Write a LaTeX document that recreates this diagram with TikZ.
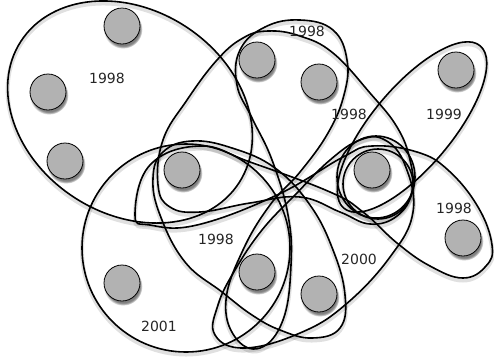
\documentclass[tikz,border=0pt]{standalone}
\usepackage{fontspec}
\setsansfont{DejaVu Sans}
\usetikzlibrary{shadows,fadings}
\begin{document}
\begin{tikzpicture}[x=1pt,y=-1pt,
  hedge/.style={draw=black, line width=1.6pt,
    preaction={draw=black, opacity=0.12, line width=4pt, transform canvas={yshift=-2.5pt}}},
  vert/.style={circle, draw=black, line width=0.8pt, fill=gray!60, minimum size=36pt, inner sep=0pt,
    circular drop shadow={shadow xshift=1pt, shadow yshift=-3pt, shadow scale=1.08}},
  lbl/.style={font=\sffamily\fontsize{14}{14}\selectfont, text=black!85, inner sep=0pt}]
\useasboundingbox (0,0) rectangle (494,360);
% hyperedges
\draw[hedge, rotate around={-33:(130,112)}] (130,112) ellipse [x radius=130, y radius=102];
\draw[hedge] (186,248) circle [radius=104];
\draw[hedge, rotate around={50:(412,127)}] (412,127) ellipse [x radius=106, y radius=40];
\draw[hedge] plot[smooth cycle, tension=0.7] coordinates {(252,118) (237,85) (240,50) (265,27) (300,20) (333,30) (347,60) (344,95) (328,133) (300,172) (270,205) (243,250) (226,300) (235,337) (260,348) (283,320) (291,265) (288,215) (272,160)};
\draw[hedge] plot[smooth cycle, tension=0.7] coordinates {(153,178) (160,215) (185,262) (222,292) (252,315) (280,330) (312,338) (340,328) (345,295) (333,250) (310,205) (275,168) (232,148) (192,141) (163,152)};
\draw[hedge] plot[smooth cycle, tension=0.7] coordinates {(215,335) (245,348) (300,333) (345,305) (390,257) (413,212) (405,165) (385,140) (360,140) (330,160) (295,195) (262,230) (235,270) (218,305)};
\draw[hedge] plot[smooth cycle, tension=0.7] coordinates {(158,185) (163,140) (187,100) (217,60) (243,38) (268,31) (300,36) (333,53) (370,93) (397,127) (410,160) (412,192) (397,216) (370,224) (340,212) (300,197) (250,203) (200,212) (170,207)};
\draw[hedge] plot[smooth cycle, tension=0.7] coordinates {(135,215) (150,165) (200,146) (250,162) (330,192) (363,212) (397,243) (430,266) (463,278) (486,266) (492,245) (478,207) (448,170) (417,152) (372,146) (343,157) (277,195) (197,225) (150,225)};
\draw[hedge] (376,177) ellipse [x radius=39, y radius=41];
\draw[hedge] (378,184) ellipse [x radius=35, y radius=35];
% vertices
\node[vert] (n1) at (122,26) {};
\node[vert] (n2) at (48,92) {};
\node[vert] (n3) at (65,161) {};
\node[vert] (n4) at (182,170) {};
\node[vert] (n5) at (257,60) {};
\node[vert] (n6) at (319,82) {};
\node[vert] (n7) at (456,70) {};
\node[vert] (n8) at (372,170) {};
\node[vert] (n9) at (463,238) {};
\node[vert] (n10) at (122,283) {};
\node[vert] (n11) at (257,272) {};
\node[vert] (n12) at (319,294) {};
% labels
\node[lbl] (l1) at (107,78) {1998};
\node[lbl] (l2) at (307,31) {1998};
\node[lbl] (l3) at (349,114) {1998};
\node[lbl] (l4) at (444,114) {1999};
\node[lbl] (l5) at (454,208) {1998};
\node[lbl] (l6) at (359,259) {2000};
\node[lbl] (l7) at (216,239) {1998};
\node[lbl] (l8) at (159,326) {2001};
\end{tikzpicture}
\end{document}
